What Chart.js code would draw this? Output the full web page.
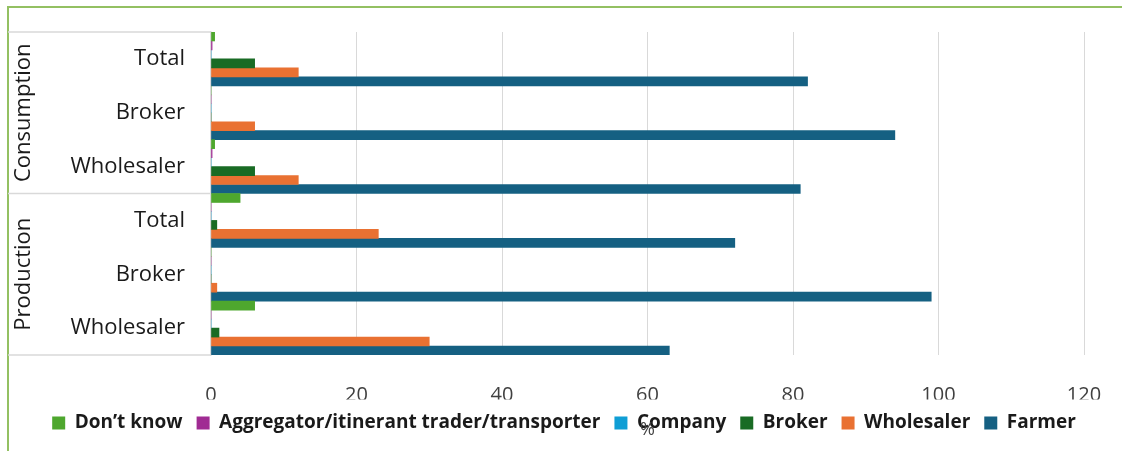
<!DOCTYPE html>
<html>
<head>
<meta charset="utf-8">
<script src="https://cdn.jsdelivr.net/npm/chart.js@4.4.1/dist/chart.umd.min.js"></script>
<style>
    body { margin: 0; background: #fff; }
    #wrap { position: relative; width: 1122px; height: 451px; }
</style>
</head>
<body>
<div id="wrap"><canvas id="marketChart"></canvas></div>
<script>
const categories = ['Total', 'Broker', 'Wholesaler', 'Total', 'Broker', 'Wholesaler'];
const groups = ['Consumption', 'Production'];
const groupSize = 3;
const xTicks = [0, 20, 40, 60, 80, 100, 120];

const dontKnow = [0.5, 0, 0.5, 4, 0, 6];
const aggregator = [0.15, 0, 0.15, 0, 0, 0];
const company = [0, 0, 0, 0, 0, 0];
const broker = [6, 0, 6, 0.8, 0, 1.1];
const wholesaler = [12, 6, 12, 23, 0.8, 30];
const farmer = [82, 94, 81, 72, 99, 63];

const FONT = "'Open Sans', sans-serif";
const LEGEND_SHIFT = 22;

const frameAndGroups = {
    id: 'frameAndGroups',
    afterLayout(chart) {
        // Excel centres the legend on the whole chart, not the padded box
        chart.legend.left += LEGEND_SHIFT;
        chart.legend.right += LEGEND_SHIFT;
    },
    afterDraw(chart) {
        const ctx = chart.ctx;
        const y = chart.scales.y;
        const x = chart.scales.x;
        const band = (y.getPixelForValue(1) - y.getPixelForValue(0));
        const boxLeft = 8;
        const boxRight = chart.chartArea.left;

        ctx.save();
        // outer green frame (top + left)
        ctx.strokeStyle = '#93c062';
        ctx.lineWidth = 2;
        ctx.beginPath();
        ctx.moveTo(8, 451);
        ctx.lineTo(8, 7);
        ctx.lineTo(1122, 7);
        ctx.stroke();

        // category box lines
        ctx.strokeStyle = '#d9d9d9';
        ctx.lineWidth = 1.5;
        for (let g = 0; g <= groups.length; g++) {
            const idx = g * groupSize;
            const py = y.getPixelForValue(0) - band / 2 + idx * band;
            ctx.beginPath();
            ctx.moveTo(boxLeft, py);
            ctx.lineTo(boxRight, py);
            ctx.stroke();
        }

        // group labels, rotated
        ctx.fillStyle = '#1a1a1a';
        ctx.font = '22px ' + FONT;
        ctx.textAlign = 'center';
        ctx.textBaseline = 'middle';
        groups.forEach((name, g) => {
            const first = y.getPixelForValue(g * groupSize);
            const last = y.getPixelForValue(g * groupSize + groupSize - 1);
            ctx.save();
            ctx.translate(24, (first + last) / 2);
            ctx.rotate(-Math.PI / 2);
            ctx.fillText(name, 0, 0);
            ctx.restore();
        });

        // axis title "%"
        ctx.fillStyle = '#404040';
        ctx.font = '18px ' + FONT;
        ctx.fillText('%', (x.left + x.right) / 2, 430);
        ctx.restore();
    }
};

const ctx = document.getElementById('marketChart').getContext('2d');
new Chart(ctx, {
    type: 'bar',
    data: {
        labels: categories,
        datasets: [
            { label: 'Don\u2019t know', data: dontKnow, backgroundColor: '#4ea72e' },
            { label: 'Aggregator/itinerant trader/transporter', data: aggregator, backgroundColor: '#a02b93' },
            { label: 'Company', data: company, backgroundColor: '#0f9ed5' },
            { label: 'Broker', data: broker, backgroundColor: '#196b24' },
            { label: 'Wholesaler', data: wholesaler, backgroundColor: '#e97132' },
            { label: 'Farmer', data: farmer, backgroundColor: '#156082' }
        ]
    },
    options: {
        indexAxis: 'y',
        responsive: true,
        maintainAspectRatio: false,
        animation: false,
        datasets: {
            bar: { categoryPercentage: 1, barPercentage: 1 }
        },
        layout: {
            padding: { left: 0, top: 32, right: 38, bottom: 8.5 }
        },
        scales: {
            x: {
                min: 0,
                max: 120,
                afterBuildTicks: (scale) => { scale.ticks = xTicks.map(v => ({ value: v })); },
                afterFit: (scale) => {
                    scale.height = 44.5;
                    scale.paddingLeft = 0;
                    scale.paddingRight = 0;
                },
                grid: { color: '#d9d9d9', drawTicks: false },
                border: { display: false },
                ticks: {
                    padding: 28,
                    color: '#404040',
                    font: { family: FONT, size: 20 }
                }
            },
            y: {
                afterFit: (scale) => {
                    scale.width = 211;
                    scale.paddingTop = 0;
                    scale.paddingBottom = 0;
                },
                grid: { display: false, drawTicks: false },
                border: { display: true, color: '#d9d9d9', width: 1.5 },
                ticks: {
                    padding: 26,
                    color: '#1a1a1a',
                    font: { family: FONT, size: 22 }
                }
            }
        },
        plugins: {
            tooltip: { enabled: false },
            legend: {
                position: 'bottom',
                labels: {
                    boxWidth: 13,
                    boxHeight: 13,
                    padding: 14,
                    color: '#1a1a1a',
                    font: { family: FONT, size: 19, weight: 'bold' }
                }
            }
        }
    },
    plugins: [frameAndGroups]
});
</script>
</body>
</html>
